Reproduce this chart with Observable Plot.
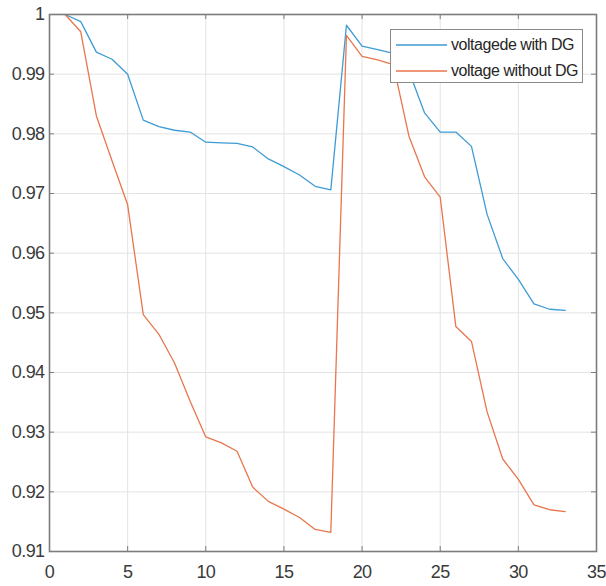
<!DOCTYPE html>
<html>
<head>
<meta charset="utf-8">
<script src="https://cdn.jsdelivr.net/npm/d3@7"></script>
<script src="https://cdn.jsdelivr.net/npm/@observablehq/plot@0.6"></script>
<style>
  html, body { margin: 0; padding: 0; background: #fff; }
  #wrap { position: relative; width: 606px; height: 586px; }
  #legend {
    position: absolute; left: 390px; top: 29px; width: 191px; height: 52px;
    border: 1.5px solid #8a8a8a; background: #fff;
    font-family: "Liberation Sans", Arial, sans-serif; font-size: 16px; color: #262626;
    letter-spacing: -0.45px;
  }
  .row { position: absolute; left: 0; height: 20px; display: flex; align-items: center; }
  .row svg { margin-left: 5px; margin-right: 4px; }
</style>
</head>
<body>
<div id="wrap"></div>
<script>
const busIndex = [1,2,3,4,5,6,7,8,9,10,11,12,13,14,15,16,17,18,19,20,21,22,23,24,25,26,27,28,29,30,31,32,33];
const withDG = [1.0000,0.9988,0.9937,0.9925,0.9900,0.9823,0.9812,0.9806,0.9803,0.9786,0.9785,0.9784,0.9778,0.9758,0.9745,0.9731,0.9712,0.9706,
                0.9982,0.9947,0.9941,0.9935,0.9905,0.9835,0.9803,0.9803,0.9779,0.9665,0.9591,0.9556,0.9515,0.9506,0.9504];
const withoutDG = [1.0000,0.9971,0.9830,0.9755,0.9681,0.9497,0.9464,0.9416,0.9352,0.9292,0.9282,0.9268,0.9208,0.9184,0.9171,0.9157,0.9137,0.9132,
                   0.9965,0.9930,0.9924,0.9916,0.9796,0.9728,0.9694,0.9477,0.9452,0.9334,0.9255,0.9221,0.9178,0.9170,0.9167];
const seriesNames = ["voltagede with DG", "voltage without DG"];
const seriesColors = ["#3f9bd5", "#e9764d"];
const xTicks = [0,5,10,15,20,25,30,35];
const yTicks = [0.91,0.92,0.93,0.94,0.95,0.96,0.97,0.98,0.99,1];
const yTickLabels = ["0.91","0.92","0.93","0.94","0.95","0.96","0.97","0.98","0.99","1"];

const rows = busIndex.flatMap((b, i) => [
  {bus: b, v: withDG[i], s: seriesNames[0]},
  {bus: b, v: withoutDG[i], s: seriesNames[1]}
]);

const W = 606, H = 586, mL = 49, mR = 10, mT = 14, mB = 35;
const innerW = W - mL - mR, innerH = H - mT - mB, tk = 5;
const axisColor = "#7c7c7c";

const chart = Plot.plot({
  width: W, height: H,
  marginLeft: mL, marginRight: mR, marginTop: mT, marginBottom: mB,
  style: {fontFamily: "'Liberation Sans', Arial, sans-serif", fontSize: "18px", color: "#3a3a3a", background: "#fff", letterSpacing: "-0.6px"},
  x: {domain: [0, 35], ticks: xTicks, label: null},
  y: {domain: [0.91, 1], ticks: yTicks, label: null},
  color: {domain: seriesNames, range: seriesColors},
  marks: [
    Plot.gridX(xTicks, {stroke: "#e3e3e3", strokeOpacity: 1, strokeWidth: 1}),
    Plot.gridY(yTicks, {stroke: "#e3e3e3", strokeOpacity: 1, strokeWidth: 1}),
    Plot.line(rows, {x: "bus", y: "v", z: "s", stroke: "s", strokeWidth: 1.3, curve: "linear"}),
    Plot.tickX(xTicks, {x: d => d, stroke: axisColor, strokeWidth: 1, insetTop: innerH - tk}),
    Plot.tickX(xTicks, {x: d => d, stroke: axisColor, strokeWidth: 1, insetBottom: innerH - tk}),
    Plot.tickY(yTicks, {y: d => d, stroke: axisColor, strokeWidth: 1, insetLeft: innerW - tk}),
    Plot.tickY(yTicks, {y: d => d, stroke: axisColor, strokeWidth: 1, insetRight: innerW - tk}),
    Plot.frame({stroke: axisColor, strokeWidth: 1.6}),
    Plot.axisX(xTicks, {tickSize: 0, tickPadding: 14, fontSize: 18}),
    Plot.axisY(yTicks, {tickSize: 0, tickPadding: 5, fontSize: 18, tickFormat: (d, i) => yTickLabels[i]})
  ]
});

const wrap = document.getElementById("wrap");
wrap.appendChild(chart);

const legend = document.createElement("div");
legend.id = "legend";
seriesNames.forEach((name, i) => {
  const row = document.createElement("div");
  row.className = "row";
  row.style.top = (i === 0 ? 5 : 31) + "px";
  row.innerHTML = `<svg width="51" height="4"><line x1="0" y1="2" x2="51" y2="2" stroke="${seriesColors[i]}" stroke-width="1.5"/></svg><span>${name}</span>`;
  legend.appendChild(row);
});
wrap.appendChild(legend);
</script>
</body>
</html>
